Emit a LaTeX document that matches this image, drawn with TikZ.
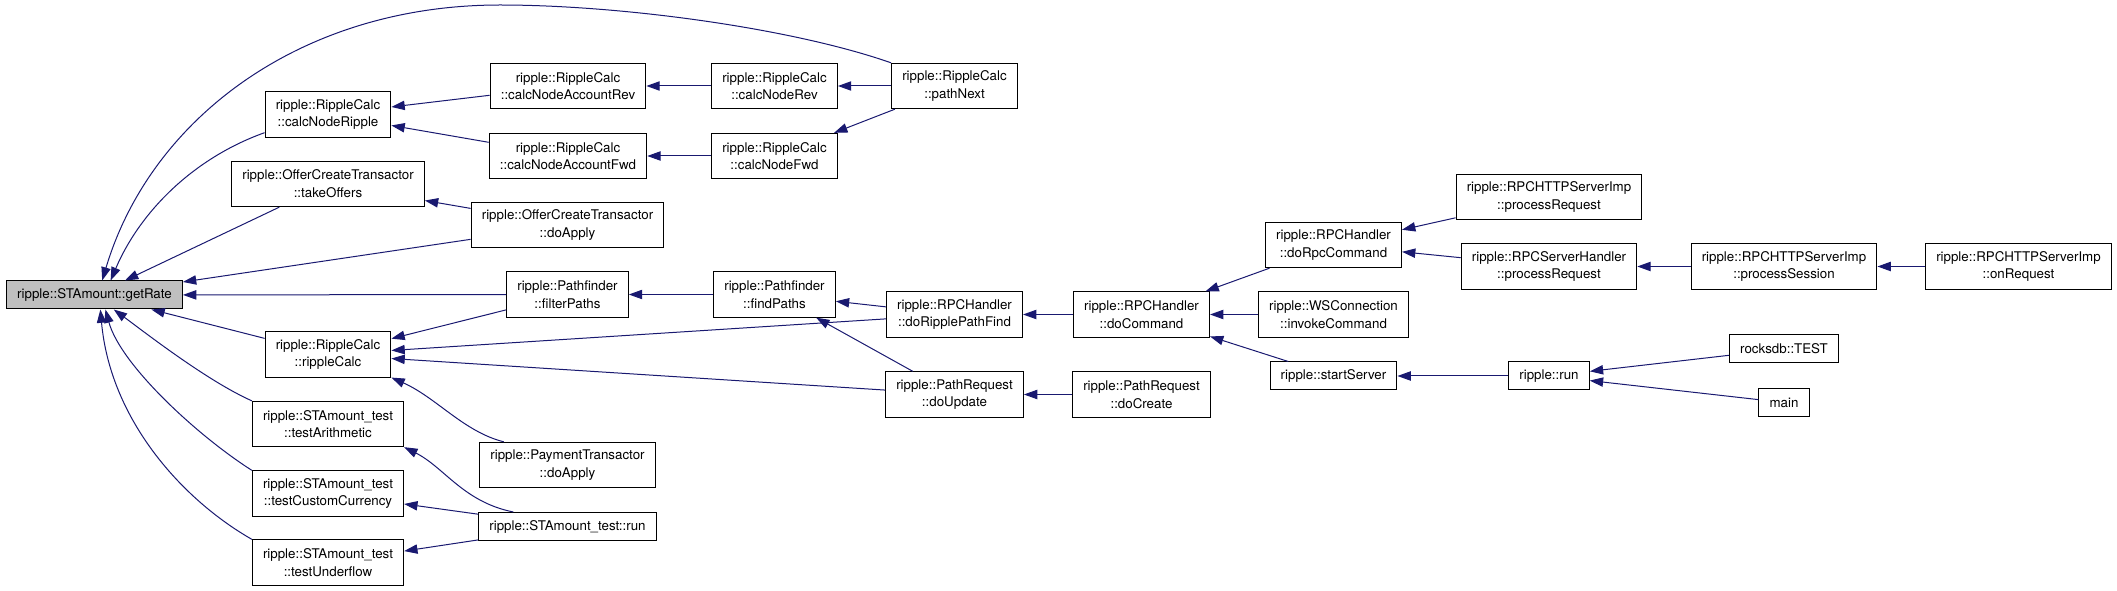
\documentclass[tikz,border=0pt]{standalone}
\usepackage{fontspec}
\setmainfont{TeX Gyre Heros}
\usetikzlibrary{arrows.meta}
\definecolor{edgeblue}{HTML}{191970}
\definecolor{boxgray}{HTML}{BFBFBF}

\begin{document}
\begin{tikzpicture}[
    x=0.75pt,
    y=-0.75pt,
    func/.style={rectangle, draw=black, line width=0.75pt, fill=white, align=center, inner xsep=8pt, inner ysep=1pt, minimum height=34pt, font=\fontsize{10}{13.3}\selectfont},
    func1/.style={func, minimum height=21pt},
    current/.style={func1, fill=boxgray},
    call/.style={draw=edgeblue, line width=0.75pt, -{Triangle[length=10pt, width=7pt]}}
]
\useasboundingbox (0,0) rectangle (2117,591);

% The function itself
\node [current] (getRate) at (94.5, 295) {ripple::STAmount::getRate};

% Direct callers
\node [func] (calcNodeRipple) at (328, 114.5) {ripple::RippleCalc\\::calcNodeRipple};
\node [func] (takeOffers) at (328, 184) {ripple::OfferCreateTransactor\\::takeOffers};
\node [func] (rippleCalc) at (328, 354.5) {ripple::RippleCalc\\::rippleCalc};
\node [func] (testArith) at (328, 424) {ripple::STAmount\_test\\::testArithmetic};
\node [func] (testCustom) at (328, 493.5) {ripple::STAmount\_test\\::testCustomCurrency};
\node [func] (testUnder) at (328, 562.5) {ripple::STAmount\_test\\::testUnderflow};

% Second rank
\node [func] (accRev) at (568, 86) {ripple::RippleCalc\\::calcNodeAccountRev};
\node [func] (accFwd) at (568, 156) {ripple::RippleCalc\\::calcNodeAccountFwd};
\node [func] (offerApply) at (567.5, 225) {ripple::OfferCreateTransactor\\::doApply};
\node [func] (filterPaths) at (567.5, 294.5) {ripple::Pathfinder\\::filterPaths};
\node [func] (payApply) at (567.5, 465) {ripple::PaymentTransactor\\::doApply};
\node [func1] (testRun) at (567.5, 526.5) {ripple::STAmount\_test::run};

% Third and fourth rank
\node [func] (nodeRev) at (774.5, 86) {ripple::RippleCalc\\::calcNodeRev};
\node [func] (nodeFwd) at (774.5, 156) {ripple::RippleCalc\\::calcNodeFwd};
\node [func] (findPaths) at (774.5, 294.5) {ripple::Pathfinder\\::findPaths};
\node [func] (pathNext) at (954.5, 86) {ripple::RippleCalc\\::pathNext};
\node [func] (doRipple) at (954.5, 314.5) {ripple::RPCHandler\\::doRipplePathFind};
\node [func] (doUpdate) at (954.5, 394.5) {ripple::PathRequest\\::doUpdate};

% RPC side
\node [func] (doCommand) at (1141.5, 314.5) {ripple::RPCHandler\\::doCommand};
\node [func] (doCreate) at (1141.5, 394.5) {ripple::PathRequest\\::doCreate};
\node [func] (doRpc) at (1333.5, 245) {ripple::RPCHandler\\::doRpcCommand};
\node [func] (wsInvoke) at (1333.5, 314.5) {ripple::WSConnection\\::invokeCommand};
\node [func1] (startServer) at (1333.5, 376) {ripple::startServer};
\node [func] (httpRequest) at (1549, 197) {ripple::RPCHTTPServerImp\\::processRequest};
\node [func] (serverRequest) at (1549, 266.5) {ripple::RPCServerHandler\\::processRequest};
\node [func1] (run) at (1549, 376) {ripple::run};
\node [func] (session) at (1784, 266.5) {ripple::RPCHTTPServerImp\\::processSession};
\node [func1] (rocksTest) at (1784, 349) {rocksdb::TEST};
\node [func1] (mainFn) at (1784, 402.5) {main};
\node [func] (onRequest) at (2018.5, 266.5) {ripple::RPCHTTPServerImp\\::onRequest};

% Straight calls (caller/callee)
\foreach \a/\b in {accRev/calcNodeRipple, accFwd/calcNodeRipple, nodeRev/accRev, nodeFwd/accFwd,
    pathNext/nodeRev, pathNext/nodeFwd, offerApply/takeOffers, offerApply/getRate, takeOffers/getRate,
    filterPaths/getRate, rippleCalc/getRate, findPaths/filterPaths, filterPaths/rippleCalc,
    doRipple/rippleCalc, doUpdate/rippleCalc, doRipple/findPaths, doUpdate/findPaths,
    doCommand/doRipple, doCreate/doUpdate, doRpc/doCommand, wsInvoke/doCommand, startServer/doCommand,
    httpRequest/doRpc, serverRequest/doRpc, session/serverRequest, onRequest/session,
    run/startServer, rocksTest/run, mainFn/run, testRun/testCustom, testRun/testUnder} {
    \draw [call] (\a) -- (\b);
}

% Curved calls
\draw [call] (pathNext.north west) .. controls +(-100,-35) and +(120,0) .. (500,5)
    .. controls +(-200,0) and +(48,-161) .. (getRate.62);
\draw [call] (calcNodeRipple.196) .. controls +(-70,25) and +(30,-70) .. (getRate.42);
\draw [call] (testArith.north west) .. controls +(-45,-20) and +(30,22) .. (getRate.-37);
\draw [call] (testCustom.north west) .. controls +(-55,-35) and +(15,55) .. (getRate.-53);
\draw [call] (testUnder.north west) .. controls +(-70,-40) and +(10,110) .. (getRate.-68);
\draw [call] (payApply.160) .. controls +(-40,-10) and +(45,20) .. (rippleCalc.-20);
\draw [call] (testRun.165) .. controls +(-50,-10) and +(40,20) .. (testArith.south east);

\end{tikzpicture}
\end{document}
